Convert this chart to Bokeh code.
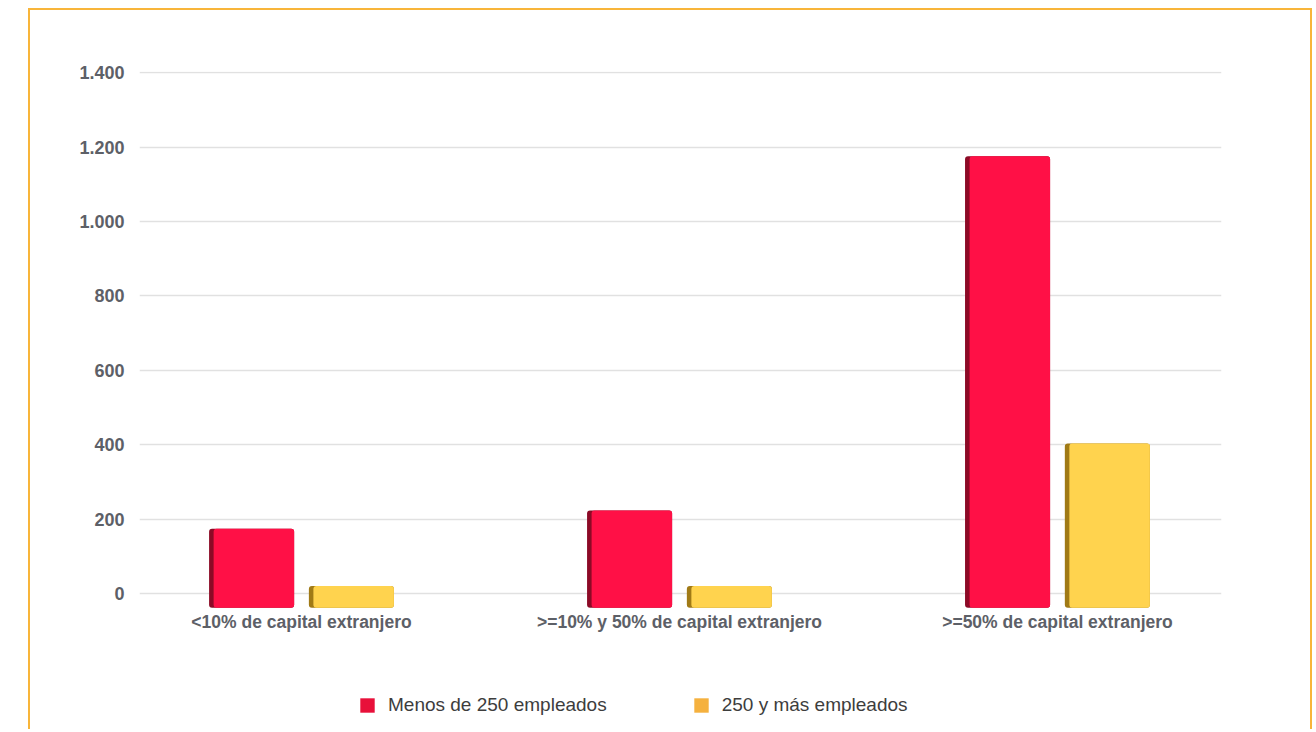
from bokeh.plotting import figure
from bokeh.models import (ColumnDataSource, FixedTicker, Range1d, Legend, LegendItem)
from bokeh.transform import dodge
from bokeh.layouts import column
from bokeh.embed import file_html
from bokeh.resources import INLINE

# ---- data ----
categories = ["<10% de capital extranjero",
              ">=10% y 50% de capital extranjero",
              ">=50% de capital extranjero"]
menos_250 = [174, 223, 1175]
mas_250 = [20, 20, 403]
series_names = ["Menos de 250 empleados", "250 y más empleados"]
y_ticks = [0, 200, 400, 600, 800, 1000, 1200, 1400]
y_tick_labels = ["0", "200", "400", "600", "800", "1.000", "1.200", "1.400"]

# ---- style ----
FONT = "Liberation Sans"
RED = "#ff1046"
RED_DARK = "#8c0a26"
YEL = "#ffd34e"
YEL_DARK = "#a07a16"
LEG_RED = "#e8103a"
LEG_YEL = "#f5b13e"
FLOOR = -38          # visual depth of the bars below the baseline
BAR_W = 0.225
OFF = 0.132
EDGE = 0.012
LABEL_COLOR = "#5d6067"

xs = list(range(len(categories)))
src = ColumnDataSource(dict(x=xs, menos=menos_250, mas=mas_250,
                            floor=[FLOOR] * len(xs)))

p = figure(width=1280, height=639, output_backend="svg", toolbar_location=None,
           x_range=Range1d(-0.4286, 2.434), y_range=Range1d(-43, 1403),
           min_border_left=109, min_border_right=89, min_border_top=61,
           min_border_bottom=40)
p.outline_line_color = None
p.background_fill_color = "white"
p.border_fill_color = "white"

# grid
p.xgrid.visible = False
p.ygrid.ticker = FixedTicker(ticks=y_ticks)
p.ygrid.grid_line_color = "#e1e1e1"
p.ygrid.grid_line_width = 1.3

# y axis
p.yaxis.ticker = FixedTicker(ticks=y_ticks)
p.yaxis.major_label_overrides = {t: l for t, l in zip(y_ticks, y_tick_labels)}
p.yaxis.axis_line_color = None
p.yaxis.major_tick_line_color = None
p.yaxis.minor_tick_line_color = None
p.yaxis.major_tick_out = 0
p.yaxis.major_tick_in = 0
p.yaxis.major_label_standoff = 15
p.yaxis.major_label_text_font = FONT
p.yaxis.major_label_text_font_style = "bold"
p.yaxis.major_label_text_font_size = "18px"
p.yaxis.major_label_text_color = LABEL_COLOR

# x axis
p.xaxis.ticker = FixedTicker(ticks=xs)
p.xaxis.major_label_overrides = {x: c for x, c in zip(xs, categories)}
p.xaxis.axis_line_color = None
p.xaxis.major_tick_line_color = None
p.xaxis.minor_tick_line_color = None
p.xaxis.major_tick_out = 0
p.xaxis.major_tick_in = 0
p.xaxis.major_label_standoff = 2
p.xaxis.major_label_text_font = FONT
p.xaxis.major_label_text_font_style = "bold"
p.xaxis.major_label_text_font_size = "17.5px"
p.xaxis.major_label_text_color = LABEL_COLOR

# bars: dark side + main face
p.vbar(x=dodge("x", -OFF), top="menos", bottom="floor", source=src,
       width=BAR_W, fill_color=RED_DARK, line_color=None, border_radius=3)
p.vbar(x=dodge("x", -OFF + EDGE / 2), top="menos", bottom="floor", source=src,
       width=BAR_W - EDGE, fill_color=RED, line_color=None, border_radius=3)
p.vbar(x=dodge("x", OFF), top="mas", bottom="floor", source=src,
       width=BAR_W, fill_color=YEL_DARK, line_color=None, border_radius=3)
p.vbar(x=dodge("x", OFF + EDGE / 2), top="mas", bottom="floor", source=src,
       width=BAR_W - EDGE, fill_color=YEL, line_color=None, border_radius=3)

# legend in its own strip below the chart (zero-size swatch renderers)
q = figure(width=1280, height=80, output_backend="svg", toolbar_location=None,
           x_axis_type=None, y_axis_type=None,
           x_range=Range1d(0, 1), y_range=Range1d(0, 1),
           min_border_left=0, min_border_right=0, min_border_top=0, min_border_bottom=0)
q.outline_line_color = None
q.grid.visible = False
swatch = ColumnDataSource(dict(x=[0], top=[0]))
r1 = q.vbar(x="x", top="top", width=0, source=swatch, fill_color=LEG_RED, line_color=None)
r2 = q.vbar(x="x", top="top", width=0, source=swatch, fill_color=LEG_YEL, line_color=None)
legend = Legend(items=[LegendItem(label=series_names[0], renderers=[r1]),
                       LegendItem(label=series_names[1], renderers=[r2])],
                orientation="horizontal", location=(219, 13),
                glyph_width=18, glyph_height=18, label_standoff=12, spacing=85,
                padding=0, margin=0, border_line_color=None,
                background_fill_alpha=0,
                label_text_font=FONT, label_text_font_size="19px",
                label_text_color="#3d3d3d")
q.add_layout(legend, "center")

layout = column(p, q, margin=(8, 0, 0, 28),
                styles={"border-top": "2px solid #f8b53a",
                        "border-left": "2px solid #f8b53a",
                        "border-right": "2px solid #f8b53a"})

open("out.html", "w").write(file_html(layout, INLINE))
